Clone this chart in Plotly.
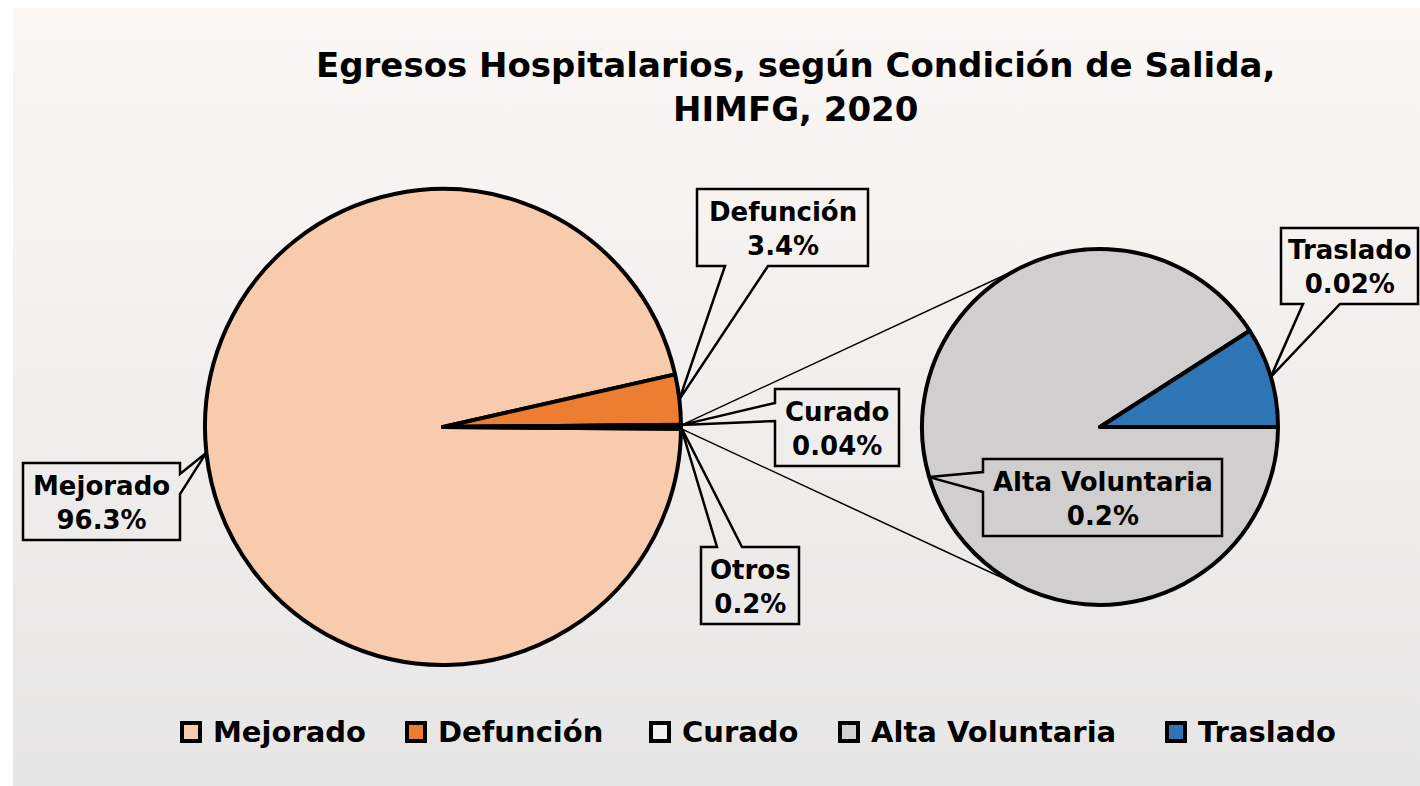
import math
import base64
import plotly.graph_objects as go

# ---------------- data ----------------
main_labels = ["Mejorado", "Defunción", "Curado", "Otros"]
main_pct_text = ["96.3%", "3.4%", "0.04%", "0.2%"]
sub_labels = ["Alta Voluntaria", "Traslado"]
sub_values = [0.2, 0.02]
sub_pct_text = ["0.2%", "0.02%"]
main_values = [96.3, 3.4, 0.04, sum(sub_values)]  # "Otros" = Alta Voluntaria + Traslado

legend_labels = ["Mejorado", "Defunción", "Curado", "Alta Voluntaria", "Traslado"]
colors = {
    "Mejorado": "#F8CBAD",
    "Defunción": "#ED7D31",
    "Curado": "#F2F2F2",
    "Otros": "#D0CECE",
    "Alta Voluntaria": "#D0CECE",
    "Traslado": "#2E75B6",
}
title_lines = ["Egresos Hospitalarios, según Condición de Salida,", "HIMFG, 2020"]

# ---------------- layout geometry (pixels) ----------------
W, H = 1420, 786
FONT = "DejaVu Sans"
L_C, L_R = (443, 427), 238     # main pie
S_C, S_R = (1100, 427), 178    # secondary pie


def domain(c, r):
    cx, cy = c
    return dict(x=[(cx - r) / W, (cx + r) / W], y=[1 - (cy + r) / H, 1 - (cy - r) / H])


def slice_angles(values, rotation):
    tot = sum(values)
    out, a = [], rotation
    for v in values:
        b = a + v / tot * 360
        out.append((a, b))
        a = b
    return out


def pt(c, r, ang):
    a = math.radians(ang)
    return (c[0] + r * math.sin(a), c[1] - r * math.cos(a))


otros_deg = main_values[-1] / sum(main_values) * 360
main_rot = 90 + otros_deg / 2
sub_rot = 90
main_ang = slice_angles(main_values, main_rot)
sub_ang = slice_angles(sub_values, sub_rot)

fig = go.Figure()

# invisible trace to create pixel-coordinate axes
fig.add_trace(go.Scatter(x=[None], y=[None], showlegend=False, hoverinfo="skip"))

fig.add_trace(go.Pie(
    labels=main_labels, values=main_values, sort=False, direction="clockwise",
    rotation=main_rot, domain=domain(L_C, L_R), textinfo="none",
    marker=dict(colors=[colors[l] for l in main_labels], line=dict(color="black", width=4)),
    showlegend=False,
))
fig.add_trace(go.Pie(
    labels=sub_labels, values=sub_values, sort=False, direction="clockwise",
    rotation=sub_rot, domain=domain(S_C, S_R), textinfo="none",
    marker=dict(colors=[colors[l] for l in sub_labels], line=dict(color="black", width=4)),
    showlegend=False,
))

shapes = []
annotations = []

# connector lines: Otros slice edges -> tangent points of secondary pie
o_a0, o_a1 = main_ang[-1]
for edge_ang, sign in ((o_a1, -1), (o_a0, 1)):
    p = pt(L_C, L_R, edge_ang)
    dx, dy = S_C[0] - p[0], S_C[1] - p[1]
    d = math.hypot(dx, dy)
    base = math.atan2(-dy, -dx)  # direction center -> external point
    th = math.acos(S_R / d)
    ang = base + sign * th
    tpt = (S_C[0] + S_R * math.cos(ang), S_C[1] + S_R * math.sin(ang))
    shapes.append(dict(type="line", xref="x", yref="y", x0=p[0], y0=p[1], x1=tpt[0], y1=tpt[1],
                       line=dict(color="black", width=1.5), layer="above"))


def callout_path(box, side, a, b, tip):
    x0, y0, x1, y1 = box
    tx, ty = tip
    pts = [(x0, y0)]
    if side == "top":
        pts += [(a, y0), (tx, ty), (b, y0)]
    pts.append((x1, y0))
    if side == "right":
        pts += [(x1, a), (tx, ty), (x1, b)]
    pts.append((x1, y1))
    if side == "bottom":
        pts += [(b, y1), (tx, ty), (a, y1)]
    pts.append((x0, y1))
    if side == "left":
        pts += [(x0, b), (tx, ty), (x0, a)]
    return "M " + " L ".join(f"{x:.1f},{y:.1f}" for x, y in pts) + " Z"


def mid(ang):
    return (ang[0] + ang[1]) / 2


callouts = [
    (main_labels[0], main_pct_text[0], (23, 463, 180, 540), "right", 474, 494, pt(L_C, L_R, mid(main_ang[0]))),
    (main_labels[1], main_pct_text[1], (697, 189, 868, 266), "bottom", 725, 768, pt(L_C, L_R, mid(main_ang[1]))),
    (main_labels[2], main_pct_text[2], (775, 389, 899, 466), "left", 403, 421, pt(L_C, L_R, mid(main_ang[2]))),
    (main_labels[3], main_pct_text[3], (701, 547, 799, 624), "top", 717, 742, pt(L_C, L_R, mid(main_ang[3]))),
    (sub_labels[1], sub_pct_text[1], (1281, 228, 1418, 304), "bottom", 1303, 1340, pt(S_C, S_R, mid(sub_ang[1]))),
    (sub_labels[0], sub_pct_text[0], (983, 459, 1222, 536), "left", 472, 492, pt(S_C, S_R, mid(sub_ang[0]))),
]
for lab, pct, box, side, a, b, tip in callouts:
    shapes.append(dict(type="path", xref="x", yref="y", path=callout_path(box, side, a, b, tip),
                       line=dict(color="black", width=2.5), fillcolor="rgba(0,0,0,0)", layer="above"))
    annotations.append(dict(
        x=(box[0] + box[2]) / 2, y=(box[1] + box[3]) / 2 + 1, xref="x", yref="y",
        text=f"<b>{lab}</b><br><b>{pct}</b>", showarrow=False, align="center",
        xanchor="center", yanchor="middle",
        font=dict(family=FONT, size=26, color="black"),
    ))

# manual legend
leg_sym_x = [191, 416, 660, 849, 1176]
leg_y = 732
for lab, sx in zip(legend_labels, leg_sym_x):
    shapes.append(dict(type="rect", xref="x", yref="y", x0=sx - 9, x1=sx + 9, y0=leg_y - 9, y1=leg_y + 9,
                       fillcolor=colors[lab], line=dict(color="black", width=4), layer="above"))
    annotations.append(dict(x=sx + 20, y=leg_y, xref="x", yref="y", text=f"<b>{lab}</b>",
                            showarrow=False, xanchor="left", yanchor="middle",
                            font=dict(family=FONT, size=29, color="black")))

# title
annotations.append(dict(x=795, y=87, xref="x", yref="y",
                        text="<br>".join(f"<b>{t}</b>" for t in title_lines),
                        showarrow=False, xanchor="center", yanchor="middle", align="center",
                        font=dict(family=FONT, size=34, color="black")))

# background gradient
gw, gh = W - 13, H - 8
svg = (f'<svg xmlns="http://www.w3.org/2000/svg" width="{gw}" height="{gh}" preserveAspectRatio="none">'
       '<defs><linearGradient id="g" x1="0" y1="0" x2="0" y2="1">'
       '<stop offset="0" stop-color="#FBF7F4"/><stop offset="1" stop-color="#E7E6E6"/>'
       '</linearGradient></defs><rect width="100%" height="100%" fill="url(#g)"/></svg>')
uri = "data:image/svg+xml;base64," + base64.b64encode(svg.encode()).decode()

fig.update_layout(
    width=W, height=H,
    margin=dict(l=0, r=0, t=0, b=0),
    paper_bgcolor="white",
    plot_bgcolor="rgba(0,0,0,0)",
    xaxis=dict(range=[0, W], visible=False, fixedrange=True, domain=[0, 1]),
    yaxis=dict(range=[H, 0], visible=False, fixedrange=True, domain=[0, 1]),
    shapes=shapes,
    annotations=annotations,
    images=[dict(source=uri, xref="paper", yref="paper", x=13 / W, y=1 - 8 / H,
                 sizex=gw / W, sizey=gh / H, xanchor="left", yanchor="top",
                 sizing="stretch", layer="below")],
    showlegend=False,
)

fig.write_html("out.html", config={"displayModeBar": False},
               post_script="document.body.style.margin='0';document.body.style.overflow='hidden';")
